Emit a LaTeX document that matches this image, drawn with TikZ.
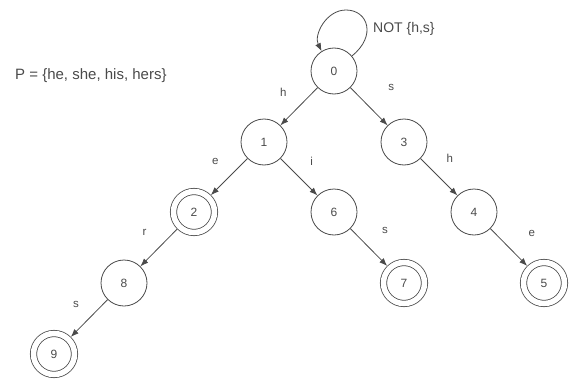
\documentclass[tikz,border=0pt]{standalone}
\usepackage{fontspec}
\setmainfont{Liberation Sans}
\usetikzlibrary{arrows.meta,calc}
\definecolor{ink}{HTML}{4A4A4A}
\begin{document}
\begin{tikzpicture}[x=1pt,y=1pt,
  state/.style={circle,draw=ink,line width=0.8pt,minimum size=46pt,inner sep=0pt,
    text=ink,font=\fontsize{12}{14}\selectfont},
  accept/.style={state,minimum size=41pt,double,double distance=5.5pt,outer sep=3.4pt},
  edge/.style={draw=ink,line width=0.8pt,-{Latex[length=8pt,width=6pt]}},
  lbl/.style={inner sep=0pt,text=ink,font=\fontsize{11.5}{14}\selectfont},
  caption/.style={inner sep=0pt,text=ink,font=\fontsize{14}{16}\selectfont,anchor=west}]
\useasboundingbox (0,0) rectangle (569,381);

% states of the keyword trie
\node[state]  (n0) at (334,310) {0};
\node[state]  (n1) at (264,239) {1};
\node[state]  (n3) at (404,239) {3};
\node[accept] (n2) at (194,169) {2};
\node[state]  (n6) at (334,169) {6};
\node[state]  (n4) at (474,169) {4};
\node[state]  (n8) at (124,98)  {8};
\node[accept] (n7) at (404,98)  {7};
\node[accept] (n5) at (544,98)  {5};
\node[accept] (n9) at (54,27)   {9};

% goto transitions
\draw[edge] (n0) -- node[lbl,pos=0.53,above left=11pt] {h} (n1);
\draw[edge] (n0) -- node[lbl,pos=0.55,above right=17pt] {s} (n3);
\draw[edge] (n1) -- node[lbl,pos=0.48,above left=11pt] {e} (n2);
\draw[edge] (n1) -- node[lbl,pos=0.5,above right=11pt] {i} (n6);
\draw[edge] (n3) -- node[lbl,pos=0.41,above right=10.5pt] {h} (n4);
\draw[edge] (n2) -- node[lbl,pos=0.5,above left=12pt] {r} (n8);
\draw[edge] (n6) -- node[lbl,pos=0.5,above right=13pt] {s} (n7);
\draw[edge] (n4) -- node[lbl,pos=0.62,above right=15pt] {e} (n5);
\draw[edge] (n8) -- node[lbl,pos=0.5,above left=10pt] {s} (n9);

% self-loop on the root
\coordinate (looptop) at ($(n0)+(12,61)$);
\draw[edge] (n0.40) .. controls +(25,20) and +(22,0) .. (looptop)
  .. controls +(-20,0) and +(-8,16) .. (n0.122);
\node[caption] (notlbl) at (373,352) {NOT \{h,s\}};

\node[caption,font=\fontsize{15}{17}\selectfont] (pset) at (15,305) {P = \{he, she, his, hers\}};
\end{tikzpicture}
\end{document}
